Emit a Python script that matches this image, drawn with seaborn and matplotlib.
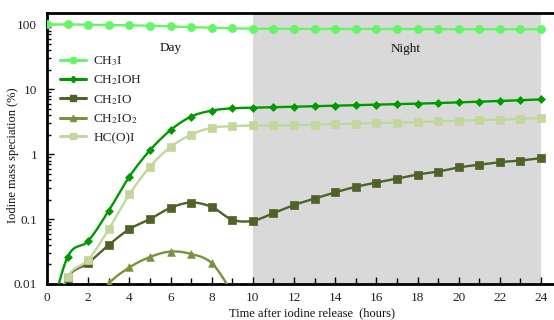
import numpy as np
import pandas as pd
import matplotlib
matplotlib.use("Agg")
import matplotlib.pyplot as plt
from matplotlib.lines import Line2D
from matplotlib.ticker import LogLocator, FixedLocator, MultipleLocator, NullFormatter
import seaborn as sns

# ---- data: iodine mass speciation (%) vs hours after release ----
hours = list(range(0, 25))

ch3i = [100, 100, 99, 98, 97, 96, 93, 91, 89, 87, 86,
        85.5, 85.5, 85.3, 85.2, 85, 85, 84.8, 84.7, 84.5, 84.5, 84.3, 84.2, 84, 84]
ch2ioh = [0.002, 0.026, 0.046, 0.135, 0.45, 1.15, 2.35, 3.8, 4.7, 5.1, 5.2,
          5.3, 5.4, 5.5, 5.6, 5.7, 5.8, 5.9, 6.0, 6.15, 6.3, 6.45, 6.6, 6.8, 7.0]
ch2io = [0.002, 0.0125, 0.021, 0.040, 0.070, 0.10, 0.149, 0.18, 0.154, 0.098, 0.094,
         0.124, 0.165, 0.207, 0.259, 0.314, 0.366, 0.42, 0.486, 0.54, 0.625, 0.69, 0.755, 0.80, 0.87]
ch2io2 = [None, None, 0.004, 0.0102, 0.018, 0.026, 0.0316, 0.029, 0.021, 0.0075] + [None] * 15
hcoi = [0.002, 0.013, 0.0235, 0.070, 0.24, 0.64, 1.29, 2.0, 2.55, 2.7, 2.77,
        2.77, 2.8, 2.85, 2.9, 2.95, 3.0, 3.05, 3.12, 3.2, 3.27, 3.35, 3.42, 3.5, 3.6]

series_names = ["CH$_3$I", "CH$_2$IOH", "CH$_2$IO", "CH$_2$IO$_2$", "HC(O)I"]
series_values = [ch3i, ch2ioh, ch2io, ch2io2, hcoi]
colors = ["#66f566", "#009a00", "#4f6228", "#77933c", "#c3d69b"]
markers = ["o", "D", "s", "^", "s"]
marker_sizes = [34, 16, 28, 30, 28]

night_start, night_end = 10, 24
x_ticks = list(range(0, 25, 2))
y_ticks = [0.01, 0.1, 1, 10, 100]
y_tick_labels = ["0.01", "0.1", "1", "10", "100"]

sns.set_theme(style="ticks")
plt.rcParams["font.family"] = ["Liberation Serif", "DejaVu Serif"]
plt.rcParams["mathtext.fontset"] = "stix"


def smooth_path(x, y, n=16):
    """Catmull-Rom curve through the points, evaluated in log10(y) space."""
    x = np.asarray(x, float)
    ly = np.log10(np.asarray(y, float))
    px = np.concatenate([[2 * x[0] - x[1]], x, [2 * x[-1] - x[-2]]])
    py = np.concatenate([[2 * ly[0] - ly[1]], ly, [2 * ly[-1] - ly[-2]]])
    xs, ys = [], []
    t = np.linspace(0, 1, n, endpoint=False)
    for i in range(1, len(px) - 2):
        for arr, out in ((px, xs), (py, ys)):
            p0, p1, p2, p3 = arr[i - 1], arr[i], arr[i + 1], arr[i + 2]
            out.extend(0.5 * ((2 * p1) + (-p0 + p2) * t
                              + (2 * p0 - 5 * p1 + 4 * p2 - p3) * t ** 2
                              + (-p0 + 3 * p1 - 3 * p2 + p3) * t ** 3))
    xs.append(x[-1])
    ys.append(ly[-1])
    return np.array(xs), 10 ** np.array(ys)


fig = plt.figure(figsize=(5.54, 3.2), dpi=100)
ax = fig.add_axes([47 / 554, 1 - 284 / 320, 1 - 47 / 554, (284 - 13) / 320])

ax.axvspan(night_start, night_end, color="#d9d9d9", lw=0, zorder=0)

handles = []
for name, vals, c, m, s in zip(series_names, series_values, colors, markers, marker_sizes):
    df = pd.DataFrame({"hour": hours, "value": vals}).dropna()
    sx, sy = smooth_path(df["hour"], df["value"])
    sns.lineplot(x=sx, y=sy, color=c, lw=1.7, sort=False, estimator=None, ax=ax, zorder=3)
    sns.scatterplot(data=df, x="hour", y="value", marker=m, color=c, edgecolor=c,
                    s=s, linewidth=0.5, ax=ax, zorder=4, legend=False)
    handles.append(Line2D([], [], color=c, lw=2.2, marker=m,
                          markersize=np.sqrt(s) * 0.8, markeredgecolor=c, label=name))

ax.set_yscale("log")
ax.set_xlim(0, 24.63)
ax.set_ylim(0.01, 150)

ax.xaxis.set_major_locator(FixedLocator(x_ticks))
ax.xaxis.set_minor_locator(MultipleLocator(1))
ax.set_xticklabels([str(t) for t in x_ticks])
ax.yaxis.set_major_locator(FixedLocator(y_ticks))
ax.set_yticklabels(y_tick_labels)
ax.yaxis.set_minor_locator(LogLocator(base=10, subs=np.arange(2, 10)))
ax.yaxis.set_minor_formatter(NullFormatter())

ax.tick_params(axis="both", which="major", direction="in", length=5, width=1,
               labelsize=9.5, colors="black", labelcolor="#222222")
ax.tick_params(axis="x", which="major", pad=6)
ax.tick_params(axis="y", which="major", pad=7)
ax.tick_params(axis="both", which="minor", direction="in", length=3, width=1, colors="black")
ax.tick_params(axis="x", which="minor", length=4)

for side in ("left", "bottom", "top"):
    ax.spines[side].set_color("black")
    ax.spines[side].set_linewidth(2)
ax.spines["right"].set_visible(False)
ax.set_xlabel("")
ax.set_ylabel("")
ax.set_facecolor("white")

ax.text(6.0, 44, "Day", ha="center", va="center", fontsize=9.5, color="#111111")
ax.text(17.4, 42, "Night", ha="center", va="center", fontsize=9.5, color="#111111")

ax.legend(handles=handles, loc="upper left", bbox_to_anchor=(0.012, 0.872),
          frameon=False, fontsize=9.5, handlelength=2.0, handletextpad=0.55,
          labelspacing=0.42, borderaxespad=0.3, borderpad=0.2)

fig.text(312 / 554, 1 - 313 / 320, "Time after iodine release  (hours)",
         ha="center", va="center", fontsize=9, color="#111111")
fig.text(13 / 554, 1 - 155 / 320, "Iodine mass speciation (%)", rotation=90,
         ha="center", va="center", fontsize=9, color="#111111")

fig.savefig("out.png", dpi=100, facecolor="white")
